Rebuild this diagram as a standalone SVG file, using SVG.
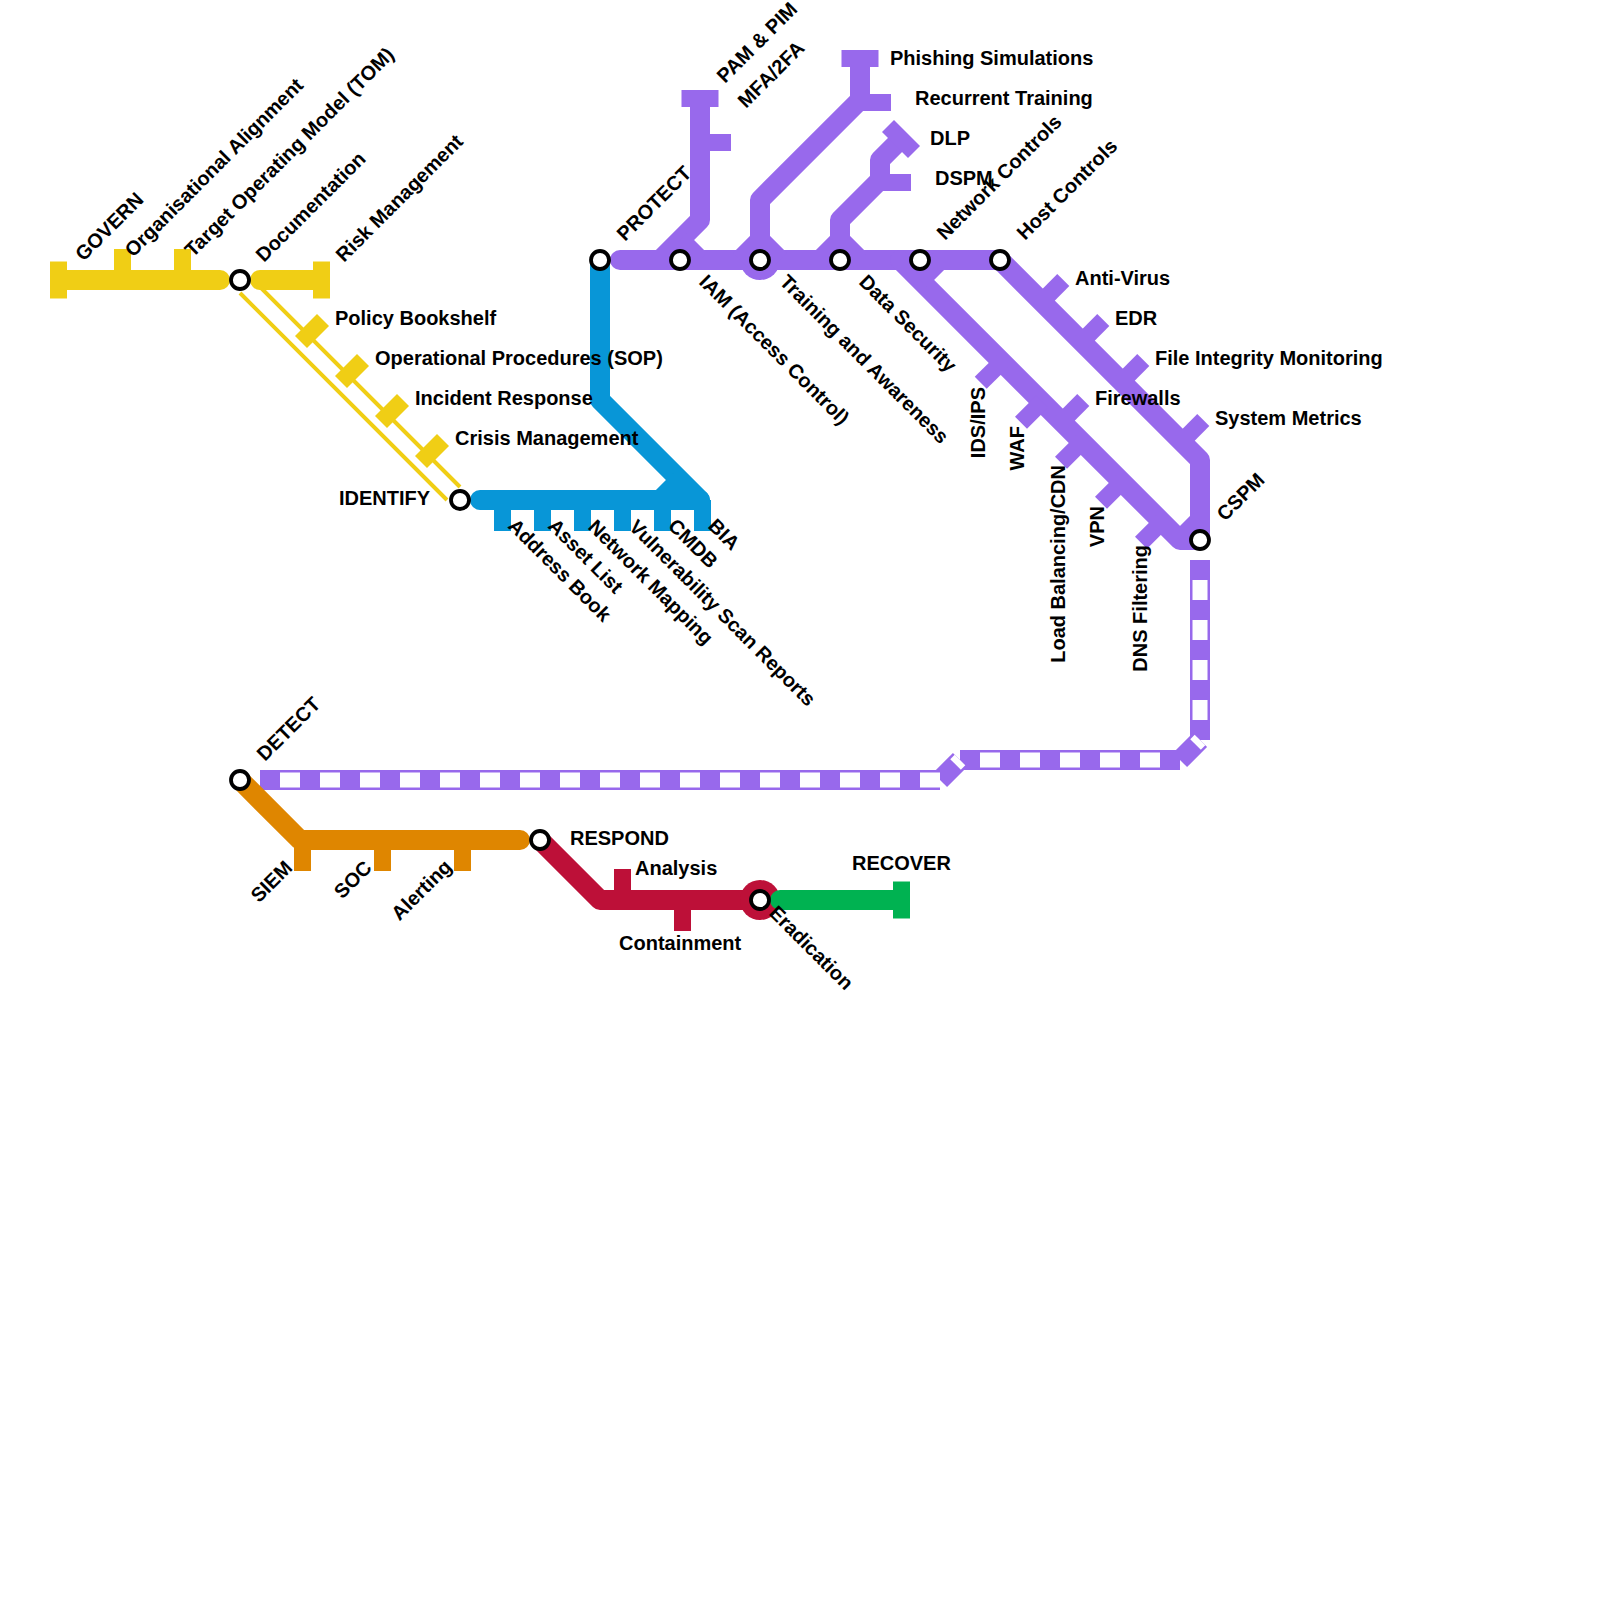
<svg xmlns="http://www.w3.org/2000/svg" width="1600" height="1600" viewBox="0 0 1600 1600">
<style>
text{font-family:"Liberation Sans",Arial,sans-serif;font-weight:700;font-size:20px;fill:#000}
.l{fill:none;stroke-width:20;stroke-linejoin:round;stroke-linecap:round}
.b{fill:none;stroke-width:20;stroke-linejoin:round;stroke-linecap:butt}
.t{fill:none;stroke-width:17;stroke-linecap:butt}
.thin{fill:none;stroke:#f0ce15;stroke-width:4;stroke-linecap:butt}
.dash{fill:none;stroke:#fff;stroke-width:15;stroke-dasharray:20 20;stroke-dashoffset:20}
.dd{stroke-dasharray:20 22}
.y{stroke:#f0ce15}.c{stroke:#0896d7}.p{stroke:#9869ec}.o{stroke:#df8600}.r{stroke:#bd1038}.g{stroke:#00b251}
.s{fill:#fff;stroke:#000;stroke-width:3.8}
</style>
<g id="connectors">
<path class="l y" d="M60 280H220"/>
<path class="l y" d="M260 280H320"/>
<path class="thin" d="M253 280L460 487M240 293L447 500"/>
<path class="l c" d="M600 260V400L700 500"/>
<path class="l c" d="M480 500H700"/>
<path class="b c" d="M660 500L680 480"/>
<circle cx="760" cy="260" r="20" fill="#9869ec"/>
<path class="l p" d="M620 260H1000"/>
<path class="b p" d="M660 260L700 220V100"/>
<path class="b p" d="M680 240L700 260"/>
<path class="b p" d="M740 260L760 240L780 260"/>
<path class="b p" d="M760 260V200L860 100V60"/>
<path class="b p" d="M820 260L840 240L860 260"/>
<path class="b p" d="M840 260V220L880 180V160L900 140"/>
<path class="l p" d="M900 260L1180 540H1200"/>
<path class="b p" d="M920 280L940 260"/>
<path class="l p" d="M1000 260L1200 460V540"/>
<path class="b p" d="M1180 540L1200 520"/>
<path class="b p" d="M1200 560V740"/><path class="dash" d="M1200 560V740"/>
<path class="b p" d="M1180 760L1200 740"/><path class="dash dd" d="M1180 760L1200 740"/>
<path class="b p" d="M960 760H1180"/><path class="dash" d="M960 760H1180"/>
<path class="b p" d="M940 780L960 760"/><path class="dash dd" d="M940 780L960 760"/>
<path class="b p" d="M260 780H940"/><path class="dash" d="M260 780H940"/>
<path class="l o" d="M240 780L300 840H520"/>
<path class="l r" d="M540 840L600 900H760"/>
<circle cx="760" cy="900" r="20" fill="#bd1038"/>
<path class="l g" d="M780 900H900"/>
</g>

<g id="n-bia"><path class="t c" d="M702.500 500V531"/><text transform="translate(707 527) rotate(45)">BIA</text></g>
<g id="n-cmdb"><path class="t c" d="M662.500 500V531"/><text transform="translate(667 527) rotate(45)">CMDB</text></g>
<g id="n-vuln"><path class="t c" d="M622.500 500V531"/><text transform="translate(628 528) rotate(45)">Vulnerability Scan Reports</text></g>
<g id="n-netmap"><path class="t c" d="M582.500 500V531"/><text transform="translate(587 528) rotate(45)">Network Mapping</text></g>
<g id="n-asset"><path class="t c" d="M542.500 500V531"/><text transform="translate(547 527) rotate(45)">Asset List</text></g>
<g id="n-address"><path class="t c" d="M502.500 500V531"/><text transform="translate(507 527) rotate(45)">Address Book</text></g>

<g id="n-govern"><path class="t y" d="M58.500 261.500V298.500"/><text transform="translate(83.500 262) rotate(-45)">GOVERN</text></g>
<g id="n-org"><path class="t y" d="M122.500 249V280"/><text transform="translate(133 258) rotate(-45)">Organisational Alignment</text></g>
<g id="n-tom"><path class="t y" d="M182.500 249V280"/><text transform="translate(193 258) rotate(-45)">Target Operating Model (TOM)</text></g>
<g id="n-doc"><circle class="s" cx="240" cy="280" r="9"/><text transform="translate(264 263) rotate(-45)">Documentation</text></g>
<g id="n-risk"><path class="t y" d="M321.500 261.500V298.500"/><text transform="translate(344 263) rotate(-45)">Risk Management</text></g>
<g id="n-policy"><path class="t y" d="M301 342L323 320"/><text x="335" y="325">Policy Bookshelf</text></g>
<g id="n-sop"><path class="t y" d="M341 382L363 360"/><text x="375" y="365">Operational Procedures (SOP)</text></g>
<g id="n-incident"><path class="t y" d="M381 422L403 400"/><text x="415" y="405">Incident Response</text></g>
<g id="n-crisis"><path class="t y" d="M421 462L443 440"/><text x="455" y="445">Crisis Management</text></g>
<g id="n-identify"><circle class="s" cx="460" cy="500" r="9"/><text x="430" y="504.500" text-anchor="end">IDENTIFY</text></g>

<g id="n-protect"><circle class="s" cx="600" cy="260" r="9"/><text transform="translate(625 242) rotate(-45)">PROTECT</text></g>
<g id="n-iam"><circle class="s" cx="680" cy="260" r="9"/><text transform="translate(698 283) rotate(45)">IAM (Access Control)</text></g>
<g id="n-pam"><path class="t p" d="M681.500 98.500H718.500"/><text transform="translate(725 84) rotate(-45)">PAM &amp; PIM</text></g>
<g id="n-mfa"><path class="t p" d="M700 142.500H731"/><text transform="translate(746 109) rotate(-45)">MFA/2FA</text></g>
<g id="n-training"><circle class="s" cx="760" cy="260" r="9"/><text transform="translate(778.500 283) rotate(45)">Training and Awareness</text></g>
<g id="n-phish"><path class="t p" d="M841.500 58.500H878.500"/><text x="890" y="65">Phishing Simulations</text></g>
<g id="n-recurrent"><path class="t p" d="M860 102.500H891"/><text x="915" y="105">Recurrent Training</text></g>
<g id="n-data"><circle class="s" cx="840" cy="260" r="9"/><text transform="translate(858 283) rotate(45)">Data Security</text></g>
<g id="n-dlp"><path class="t p" d="M888 126L914 152"/><text x="930" y="145">DLP</text></g>
<g id="n-dspm"><path class="t p" d="M880 182.500H911"/><text x="935" y="185">DSPM</text></g>
<g id="n-network"><circle class="s" cx="920" cy="260" r="9"/><text transform="translate(945 241) rotate(-45)">Network Controls</text></g>
<g id="n-host"><circle class="s" cx="1000" cy="260" r="9"/><text transform="translate(1025 241) rotate(-45)">Host Controls</text></g>
<g id="n-av"><path class="t p" d="M1041.700 301.700L1063.300 280"/><text x="1075" y="285">Anti-Virus</text></g>
<g id="n-edr"><path class="t p" d="M1081.700 341.700L1103.300 320"/><text x="1115" y="325">EDR</text></g>
<g id="n-fim"><path class="t p" d="M1121.700 381.700L1143.300 360"/><text x="1155" y="365">File Integrity Monitoring</text></g>
<g id="n-metrics"><path class="t p" d="M1181.700 441.700L1203.300 420"/><text x="1215" y="425">System Metrics</text></g>
<g id="n-firewalls"><path class="t p" d="M1061.700 421.700L1083.300 400"/><text x="1095" y="405">Firewalls</text></g>
<g id="n-ids"><path class="t p" d="M1002 361.700L980.700 382.700"/><text transform="translate(985 387) rotate(-90)" text-anchor="end">IDS/IPS</text></g>
<g id="n-waf"><path class="t p" d="M1042 401.700L1021 422.700"/><text transform="translate(1024 426) rotate(-90)" text-anchor="end">WAF</text></g>
<g id="n-lb"><path class="t p" d="M1082 441.700L1061 462.700"/><text transform="translate(1065 465) rotate(-90)" text-anchor="end">Load Balancing/CDN</text></g>
<g id="n-vpn"><path class="t p" d="M1122 481.700L1101 502.700"/><text transform="translate(1103.500 506) rotate(-90)" text-anchor="end">VPN</text></g>
<g id="n-dns"><path class="t p" d="M1162 521.700L1141 542.700"/><text transform="translate(1147 545) rotate(-90)" text-anchor="end">DNS Filtering</text></g>
<g id="n-cspm"><circle class="s" cx="1200" cy="540" r="9"/><text transform="translate(1225 522) rotate(-45)">CSPM</text></g>

<g id="n-detect"><circle class="s" cx="240" cy="780" r="9"/><text transform="translate(265 762) rotate(-45)">DETECT</text></g>
<g id="n-siem"><path class="t o" d="M302.500 840V871"/><text transform="translate(293.500 869) rotate(-45)" text-anchor="end">SIEM</text></g>
<g id="n-soc"><path class="t o" d="M382.500 840V871"/><text transform="translate(373 869) rotate(-45)" text-anchor="end">SOC</text></g>
<g id="n-alerting"><path class="t o" d="M462.500 840V871"/><text transform="translate(453 868) rotate(-45)" text-anchor="end">Alerting</text></g>
<g id="n-respond"><circle class="s" cx="540" cy="840" r="9"/><text x="570" y="845">RESPOND</text></g>
<g id="n-analysis"><path class="t r" d="M622.500 869V900"/><text x="635" y="875">Analysis</text></g>
<g id="n-containment"><path class="t r" d="M682.500 900V931"/><text x="619" y="950">Containment</text></g>
<g id="n-eradication"><circle class="s" cx="760" cy="900" r="9"/><text transform="translate(768 914) rotate(45)">Eradication</text></g>
<g id="n-recover"><path class="t g" d="M901.500 881.500V918.500"/><text x="852" y="870">RECOVER</text></g>
</svg>
